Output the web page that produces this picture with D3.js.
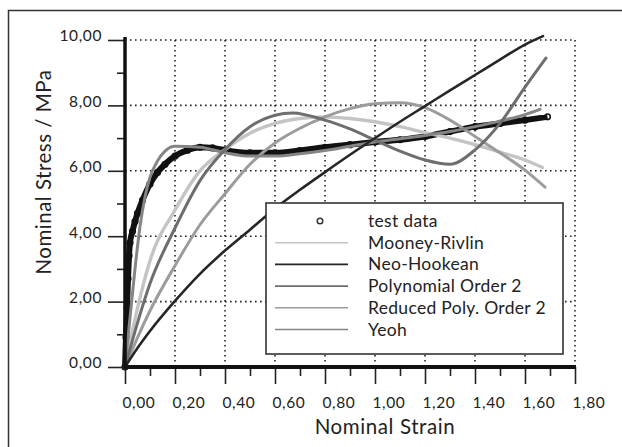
<!DOCTYPE html>
<html><head><meta charset="utf-8">
<script src="https://cdn.jsdelivr.net/npm/d3@7"></script>
<style>
html,body{margin:0;padding:0;background:#fff;}
svg{display:block;font-family:Lato,"Open Sans",sans-serif;}
</style></head>
<body>
<svg id="chart" width="622" height="447"></svg>
<script>
// ---- data ----
const xTicks = [0,0.2,0.4,0.6,0.8,1.0,1.2,1.4,1.6,1.8];
const yTicks = [0,2,4,6,8,10];
const xMinor = [0.1,0.3,0.5,0.7,0.9,1.1,1.3,1.5,1.7];
const yMinor = [1,3,5,7,9];

const seriesNames = ["test data","Mooney-Rivlin","Neo-Hookean","Polynomial Order 2","Reduced Poly. Order 2","Yeoh"];
const seriesColors = ["#111","#c4c4c4","#262626","#6e6e6e","#9c9c9c","#858585"];

const testStrain = [0,0.004,0.008,0.012,0.016,0.02,0.03,0.04,0.05,0.07,0.1,0.13,0.16,0.2,0.25,0.3,0.35,0.4,0.5,0.6,0.7,0.8,0.9,1.0,1.1,1.2,1.3,1.4,1.5,1.6,1.69];
const testStress = [0,0.9,1.8,2.7,3.4,3.8,4.15,4.45,4.7,5.1,5.6,5.95,6.2,6.45,6.63,6.72,6.7,6.63,6.55,6.55,6.62,6.72,6.8,6.88,6.95,7.05,7.2,7.35,7.45,7.55,7.65];

const mooneyStrain = [0,0.05,0.1,0.2,0.3,0.4,0.5,0.6,0.7,0.8,0.9,1.0,1.1,1.2,1.3,1.4,1.5,1.6,1.67];
const mooneyStress = [0,1.8,3.25,4.8,6.0,6.65,7.15,7.45,7.6,7.65,7.6,7.5,7.35,7.17,7.0,6.8,6.57,6.33,6.1];

const neoStrain = [0,0.05,0.1,0.2,0.3,0.4,0.5,0.6,0.7,0.8,0.9,1.0,1.1,1.2,1.3,1.4,1.5,1.6,1.672];
const neoStress = [0,0.58,1.1,2.02,2.85,3.56,4.2,4.85,5.42,5.96,6.49,7.0,7.5,7.98,8.46,8.93,9.4,9.86,10.12];

const polyStrain = [0,0.05,0.1,0.2,0.3,0.4,0.5,0.6,0.67,0.8,0.9,1.0,1.1,1.2,1.3,1.4,1.5,1.6,1.684];
const polyStress = [0,1.35,2.55,4.25,5.7,6.65,7.35,7.7,7.77,7.55,7.28,6.94,6.6,6.33,6.2,6.64,7.45,8.56,9.45];

const redStrain = [0,0.05,0.1,0.2,0.3,0.4,0.5,0.6,0.7,0.8,0.9,1.0,1.1,1.2,1.3,1.4,1.5,1.6,1.68];
const redStress = [0,0.9,1.72,3.1,4.35,5.3,6.2,6.85,7.3,7.65,7.9,8.05,8.08,7.93,7.55,7.05,6.55,6.02,5.5];

const yeohStrain = [0,0.02,0.04,0.06,0.08,0.1,0.13,0.16,0.2,0.3,0.4,0.5,0.6,0.7,0.8,0.9,1.0,1.1,1.2,1.3,1.4,1.5,1.6,1.66];
const yeohStress = [0,1.5,3.0,4.3,5.2,5.8,6.3,6.6,6.75,6.72,6.55,6.45,6.45,6.52,6.62,6.75,6.88,6.98,7.08,7.2,7.35,7.52,7.72,7.88];

// ---- drawing ----
const svg = d3.select("#chart");
const x = d3.scaleLinear().domain([0,1.8]).range([125,575]);
const y = d3.scaleLinear().domain([0,10]).range([367,40]);
const fmt = d3.formatLocale({decimal:",",thousands:".",grouping:[3],currency:["","€"]}).format(".2f");

// outer frame
svg.append("rect").attr("x",8.5).attr("y",10.5).attr("width",700).attr("height",500)
  .attr("fill","none").attr("stroke","#333").attr("stroke-width",1.5);

// dotted grid
const grid = svg.append("g").attr("stroke","#222").attr("stroke-width",1.6).attr("stroke-dasharray","1.6,3.4");
xTicks.filter(d=>d>0).forEach(d=>{
  grid.append("line").attr("x1",x(d)).attr("x2",x(d)).attr("y1",y(10)).attr("y2",y(0));
});
yTicks.filter(d=>d>0).forEach(d=>{
  grid.append("line").attr("x1",x(0)).attr("x2",x(1.8)).attr("y1",y(d)).attr("y2",y(d));
});

const line = (xs,ys)=>d3.line().x((d,i)=>x(xs[i])).y((d,i)=>y(ys[i])).curve(d3.curveMonotoneX)(xs);

// test data band
svg.append("path").attr("d",line(testStrain,testStress)).attr("fill","none")
  .attr("stroke","#111").attr("stroke-width",6).attr("stroke-linejoin","round");
svg.append("g").selectAll("circle").data(testStrain).join("circle")
  .attr("cx",(d,i)=>x(testStrain[i])).attr("cy",(d,i)=>y(testStress[i])).attr("r",2.8)
  .attr("fill","none").attr("stroke","#111").attr("stroke-width",1.6);

// model curves
const models = [
  [mooneyStrain,mooneyStress,seriesColors[1],3.4],
  [redStrain,redStress,seriesColors[4],3],
  [yeohStrain,yeohStress,seriesColors[5],3],
  [polyStrain,polyStress,seriesColors[3],3],
  [neoStrain,neoStress,seriesColors[2],2.6]
];
models.forEach(m=>{
  svg.append("path").attr("d",line(m[0],m[1])).attr("fill","none")
    .attr("stroke",m[2]).attr("stroke-width",m[3]).attr("stroke-linecap","round");
});

// axes
const yAxis = d3.axisLeft(y).tickValues(yTicks).tickSize(17).tickPadding(6).tickFormat(fmt);
const gy = svg.append("g").attr("transform",`translate(${x(0)},0)`).call(yAxis);
const yAxisMinor = d3.axisLeft(y).tickValues(yMinor).tickSize(8).tickFormat("");
const gym = svg.append("g").attr("transform",`translate(${x(0)},0)`).call(yAxisMinor);
const xAxis = d3.axisBottom(x).tickValues(xTicks).tickSize(17).tickFormat(fmt);
const gx = svg.append("g").attr("transform",`translate(0,${y(0)})`).call(xAxis);
const xAxisMinor = d3.axisBottom(x).tickValues(xMinor).tickSize(9).tickFormat("");
const gxm = svg.append("g").attr("transform",`translate(0,${y(0)})`).call(xAxisMinor);
[gy,gym,gx,gxm].forEach(g=>{
  g.select(".domain").remove();
  g.selectAll(".tick line").attr("stroke","#222").attr("stroke-width",1.6);
});
gy.selectAll(".tick text").attr("font-size",15.5).attr("fill","#222").attr("letter-spacing",0.6)
  .attr("dy","0.32em").attr("y",-4).attr("font-family","Lato,sans-serif");
gx.selectAll(".tick text").attr("font-size",15.5).attr("fill","#222").attr("letter-spacing",0.6)
  .attr("text-anchor","start").attr("x",-3).attr("y",41).attr("dy",0).attr("font-family","Lato,sans-serif");

// thick axis lines
svg.append("line").attr("x1",x(0)).attr("x2",x(0)).attr("y1",y(0)+1.5).attr("y2",y(10)-3)
  .attr("stroke","#111").attr("stroke-width",3.5);
svg.append("line").attr("x1",x(0)-1.5).attr("x2",x(1.8)+1).attr("y1",y(0)).attr("y2",y(0))
  .attr("stroke","#111").attr("stroke-width",4);

// axis titles
svg.append("text").attr("x",385).attr("y",434).attr("text-anchor","middle")
  .attr("font-size",20.5).attr("fill","#222").attr("letter-spacing",0.6).text("Nominal Strain");
svg.append("text").attr("transform","translate(51,172) rotate(-90)").attr("text-anchor","middle")
  .attr("font-size",20.5).attr("fill","#222").attr("letter-spacing",0.5).text("Nominal Stress / MPa");

// legend
const lg = svg.append("g");
lg.append("rect").attr("x",266).attr("y",203).attr("width",297).attr("height",151)
  .attr("fill","#fff").attr("stroke","#333").attr("stroke-width",1.6);
seriesNames.forEach((name,i)=>{
  const cy = 221 + i*21.7;
  if(i===0){
    lg.append("circle").attr("cx",320).attr("cy",cy).attr("r",2.8).attr("fill","#fff")
      .attr("stroke","#333").attr("stroke-width",1.5);
  } else {
    lg.append("line").attr("x1",275).attr("x2",348).attr("y1",cy).attr("y2",cy)
      .attr("stroke",seriesColors[i]).attr("stroke-width",i===2?1.8:1.6);
  }
  lg.append("text").attr("x",368).attr("y",cy+6).attr("font-size",17.5).attr("fill","#222")
    .attr("letter-spacing",0.3).text(name);
});
</script>
</body></html>
